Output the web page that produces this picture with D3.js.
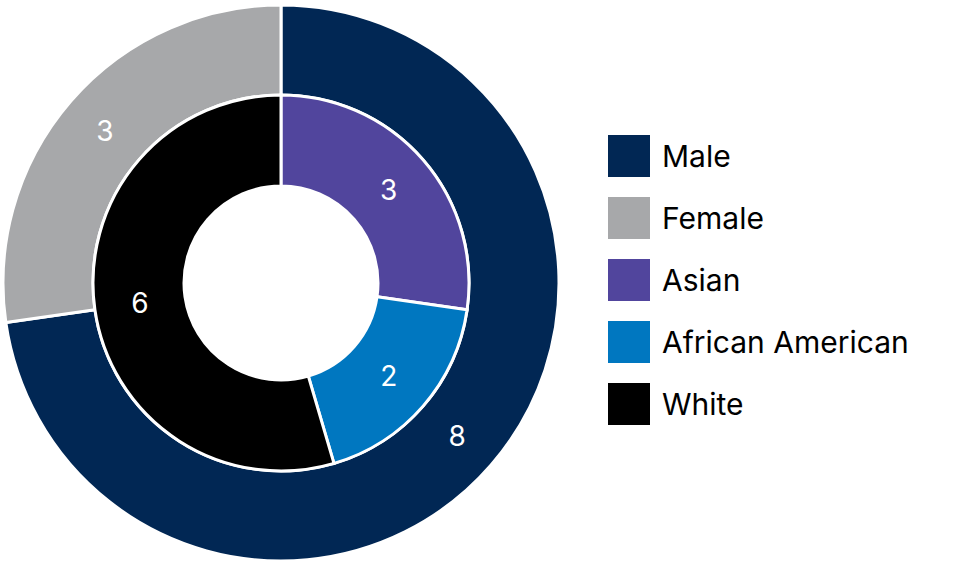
<!DOCTYPE html>
<html><head><meta charset="utf-8">
<script src="https://cdn.jsdelivr.net/npm/d3@7"></script>
<style>body{margin:0;background:#fff}svg{font-family:Inter,"Noto Sans",sans-serif}</style>
</head><body><svg id="c" width="964" height="567"></svg>
<script>
const outerLabels = ["Male","Female"];
const outerValues = [8,3];
const innerLabels = ["Asian","African American","White"];
const innerValues = [3,2,6];
const legendLabels = ["Male","Female","Asian","African American","White"];
const colors = {"Male":"#012754","Female":"#a7a8aa","Asian":"#51459d","African American":"#0077c0","White":"#000000"};

const svg = d3.select("#c");
const g = svg.append("g").attr("transform","translate(281,283)");
const pie = d3.pie().sort(null).value(d=>d.v);

function ring(labels, values, r0, r1){
  const data = pie(labels.map((l,i)=>({l, v:values[i]})));
  const arc = d3.arc().innerRadius(r0).outerRadius(r1);
  g.selectAll(null).data(data).enter().append("path")
    .attr("d",arc).attr("fill",d=>colors[d.data.l])
    .attr("stroke","#fff").attr("stroke-width",3);
  g.selectAll(null).data(data).enter().append("text")
    .attr("transform",d=>`translate(${arc.centroid(d)})`)
    .attr("text-anchor","middle").attr("dy","0.36em")
    .attr("fill","#fff").attr("font-size",28).text(d=>d.data.v);
}
ring(outerLabels, outerValues, 188, 278);
ring(innerLabels, innerValues, 97, 188);

const lg = svg.append("g");
const y = d3.scalePoint().domain(legendLabels).range([156,404]);
legendLabels.forEach(l=>{
  lg.append("rect").attr("x",608).attr("y",y(l)-21).attr("width",42).attr("height",42).attr("fill",colors[l]);
  lg.append("text").attr("x",662).attr("y",y(l)).attr("dy","0.36em").attr("font-size",30).attr("fill","#000").text(l);
});
</script></body></html>
